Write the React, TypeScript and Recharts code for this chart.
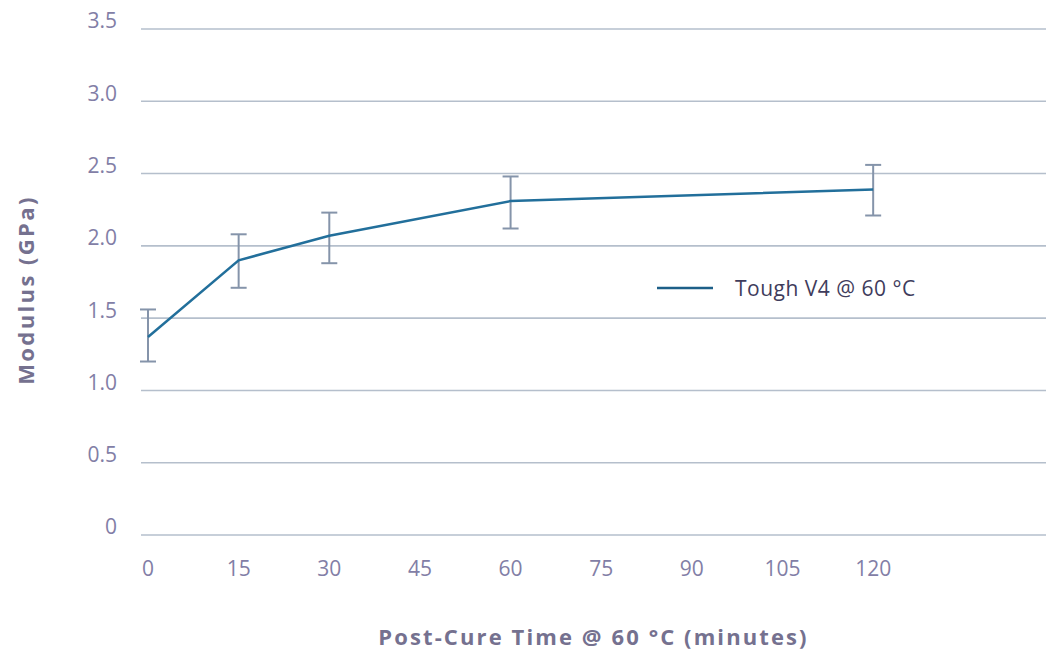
import React from 'react';
import { LineChart, Line, XAxis, YAxis, CartesianGrid, ErrorBar, Legend } from 'recharts';

// post-cure time (minutes) and measured modulus (GPa)
const minutes = [0, 15, 30, 60, 120];
const modulus = [1.37, 1.9, 2.07, 2.31, 2.39];
// error bar extents below / above each mean
const errLow = [0.17, 0.19, 0.19, 0.19, 0.18];
const errHigh = [0.19, 0.18, 0.16, 0.17, 0.17];

const xTicks = [0, 15, 30, 45, 60, 75, 90, 105, 120];
const yTicks = [0, 0.5, 1, 1.5, 2, 2.5, 3, 3.5];
const yTickLabels = ['0', '0.5', '1.0', '1.5', '2.0', '2.5', '3.0', '3.5'];

const seriesName = 'Tough V4 @ 60 °C';
const xTitle = 'Post-Cure Time @ 60 °C (minutes)';
const yTitle = 'Modulus (GPa)';

const data = minutes.map((m, i) => ({
  minutes: m,
  modulus: modulus[i],
  err: [errLow[i], errHigh[i]],
}));

const FONT = '"Open Sans", sans-serif';
const TICK_COLOR = '#827ea6';
const TITLE_COLOR = '#75718f';
const LINE_COLOR = '#226f9b';

const YTick = ({ x, y, payload }: any) => {
  const idx = yTicks.indexOf(payload.value);
  return (
    <text x={x} y={y - 8} dy="0.355em" textAnchor="end" fill={TICK_COLOR} fontSize={21} fontFamily={FONT}>
      {yTickLabels[idx] ?? payload.value}
    </text>
  );
};

const XTitle = ({ viewBox }: any) => (
  <text
    x={viewBox.x + viewBox.width / 2}
    y={645}
    textAnchor="middle"
    fill={TITLE_COLOR}
    fontSize={22}
    fontWeight={700}
    letterSpacing={2.1}
    fontFamily={FONT}
  >
    {xTitle}
  </text>
);

const YTitle = ({ viewBox }: any) => {
  const cx = 25;
  const cy = viewBox.y + viewBox.height / 2 + 8;
  return (
    <text
      x={cx}
      y={cy}
      transform={`rotate(-90 ${cx} ${cy})`}
      textAnchor="middle"
      dominantBaseline="central"
      fill={TITLE_COLOR}
      fontSize={22}
      fontWeight={700}
      letterSpacing={2.4}
      fontFamily={FONT}
    >
      {yTitle}
    </text>
  );
};

const LegendContent = () => (
  <div style={{ display: 'flex', alignItems: 'center', fontFamily: FONT }}>
    <svg width={56} height={4} style={{ display: 'block' }}>
      <line x1={0} y1={2} x2={56} y2={2} stroke="#1d5f88" strokeWidth={2.5} />
    </svg>
    <span style={{ marginLeft: 22, fontSize: 21, letterSpacing: 0.5, color: '#3f3c5c', whiteSpace: 'nowrap' }}>
      {seriesName}
    </span>
  </div>
);

export default function App() {
  return (
    <div style={{ position: 'absolute', left: 0, top: 0, background: '#fff' }}>
      <LineChart width={1046} height={656} data={data} margin={{ top: 29, right: 0, bottom: 0, left: 0 }}>
        <CartesianGrid horizontal vertical={false} stroke="#b5bfcc" strokeWidth={1.6} />
        <XAxis
          dataKey="minutes"
          type="number"
          domain={[0, 148.6]}
          ticks={xTicks}
          padding={{ left: 7, right: 0 }}
          axisLine={false}
          tickLine={false}
          tickSize={0}
          tickMargin={26}
          height={121}
          tick={{ fill: TICK_COLOR, fontSize: 21, fontFamily: FONT }}
          label={<XTitle />}
        />
        <YAxis
          type="number"
          domain={[0, 3.5]}
          ticks={yTicks}
          width={141}
          axisLine={false}
          tickLine={false}
          tickSize={0}
          tickMargin={24}
          tick={<YTick />}
          label={<YTitle />}
        />
        <Legend
          layout="vertical"
          align="center"
          verticalAlign="middle"
          content={<LegendContent />}
          wrapperStyle={{ position: 'absolute', left: 657, top: 274, width: 'auto' }}
        />
        <Line
          type="linear"
          dataKey="modulus"
          name={seriesName}
          stroke={LINE_COLOR}
          strokeWidth={2.5}
          dot={false}
          activeDot={false}
          isAnimationActive={false}
        >
          <ErrorBar dataKey="err" direction="y" width={8} stroke="#8594aa" strokeWidth={2} />
        </Line>
      </LineChart>
    </div>
  );
}
